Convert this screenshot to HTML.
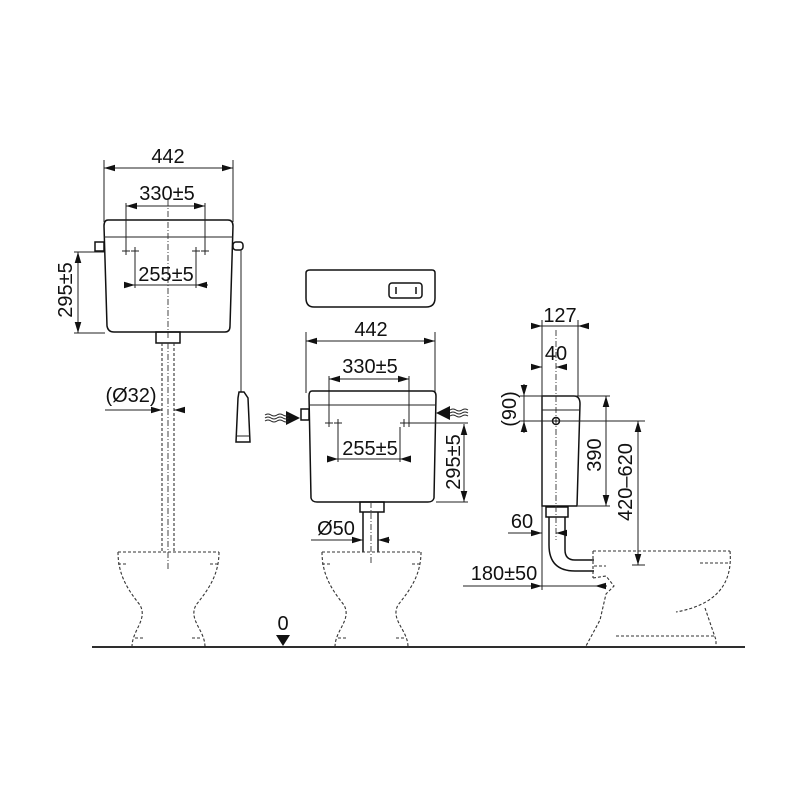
<!DOCTYPE html>
<html><head><meta charset="utf-8"><style>
html,body{margin:0;padding:0;background:#fff}
svg{display:block}
text{font-family:"Liberation Sans","DejaVu Sans",sans-serif;font-size:20px;fill:#111}
.s{stroke:#111;stroke-width:1.5;fill:none}
.t{stroke:#222;stroke-width:1;fill:none}
.d{stroke:#333;stroke-width:1.1;fill:none;stroke-dasharray:3,2}
.c{stroke:#333;stroke-width:0.9;fill:none;stroke-dasharray:6,2,1,2}
</style></head><body>
<svg width="800" height="800" viewBox="0 0 800 800" xmlns="http://www.w3.org/2000/svg">
<defs>
<marker id="a" viewBox="0 0 10 6" refX="10" refY="3" markerWidth="11" markerHeight="7" orient="auto-start-reverse" markerUnits="userSpaceOnUse"><path d="M0,0L10,3L0,6z" fill="#111"/></marker>
</defs>
<line x1="92" y1="647" x2="745" y2="647" stroke="#111" stroke-width="1.8"/>
<path d="M276,635h14l-7,11z" fill="#111"/><text x="283" y="630" text-anchor="middle">0</text>

<!-- LEFT TANK -->
<path class="s" d="M108,220 Q104,220 104,226 L107,326 Q108,332 114,332 L225,332 Q230,332 230,326 L233,226 Q233,220 228,220 Z"/>
<line class="t" x1="104" y1="237" x2="233" y2="237"/>
<rect class="s" x="95" y="242" width="9" height="9"/>
<rect class="s" x="233" y="242" width="10" height="8" rx="3"/>
<line class="c" x1="168" y1="200" x2="168" y2="340"/>
<line class="t" x1="104" y1="160" x2="104" y2="222"/><line class="t" x1="233" y1="160" x2="233" y2="222"/>
<line class="t" x1="104" y1="168" x2="233" y2="168" marker-start="url(#a)" marker-end="url(#a)"/>
<text x="168" y="163" text-anchor="middle">442</text>
<line class="t" x1="126" y1="203" x2="126" y2="254"/><line class="t" x1="205" y1="203" x2="205" y2="254"/>
<line class="t" x1="126" y1="206" x2="205" y2="206" marker-start="url(#a)" marker-end="url(#a)"/>
<text x="167" y="200" text-anchor="middle">330±5</text>
<path class="t" d="M122,251h8M126,247v8M131,251h8M135,247v8M192,251h8M196,247v8M201,251h8M205,247v8"/>
<line class="t" x1="135" y1="255" x2="135" y2="288"/><line class="t" x1="196" y1="255" x2="196" y2="288"/>
<line class="t" x1="124" y1="285" x2="135" y2="285" marker-end="url(#a)"/><line class="t" x1="208" y1="285" x2="196" y2="285" marker-end="url(#a)"/>
<line class="t" x1="135" y1="285" x2="196" y2="285"/>
<text x="166" y="281" text-anchor="middle">255±5</text>
<line class="t" x1="74" y1="252" x2="104" y2="252"/><line class="t" x1="74" y1="333" x2="105" y2="333"/>
<line class="t" x1="78" y1="252" x2="78" y2="333" marker-start="url(#a)" marker-end="url(#a)"/>
<text transform="translate(72,290) rotate(-90)" text-anchor="middle">295±5</text>
<rect class="s" x="156" y="332" width="24" height="11"/>
<path class="d" d="M162,343V552M174,343V552"/><line class="c" x1="168" y1="343" x2="168" y2="570"/>
<line class="t" x1="105" y1="410" x2="162" y2="410" marker-end="url(#a)"/><line class="t" x1="185" y1="410" x2="174" y2="410" marker-end="url(#a)"/>
<text x="131" y="402" text-anchor="middle">(Ø32)</text>
<line class="t" x1="241" y1="250" x2="241" y2="392"/>
<path class="s" d="M239,392h5l4,6l2,44h-14l2,-44z"/><line class="t" x1="236" y1="436" x2="250" y2="436"/>
<path class="d" d="M118,552H219 M118,552 C118,575 128,590 140,605 C148,620 132,630 132,647 M219,552 C219,575 208,590 196,605 C188,620 205,630 205,647 M118,564h8M210,564h8M135,638h8M192,638h8"/>

<!-- MIDDLE -->
<path class="s" d="M310,270H432Q435,270 435,273V298Q435,307 426,307H314Q306,307 306,298V273Q306,270 310,270Z"/>
<rect class="s" x="389" y="283" width="33" height="15" rx="3"/><path class="s" d="M396,287v7M416,287v7"/>
<line class="t" x1="306" y1="332" x2="306" y2="393"/><line class="t" x1="435" y1="332" x2="435" y2="393"/>
<line class="t" x1="306" y1="341" x2="435" y2="341" marker-start="url(#a)" marker-end="url(#a)"/>
<text x="371" y="336" text-anchor="middle">442</text>
<line class="t" x1="329" y1="376" x2="329" y2="426"/><line class="t" x1="409" y1="376" x2="409" y2="426"/>
<line class="t" x1="329" y1="379" x2="409" y2="379" marker-start="url(#a)" marker-end="url(#a)"/>
<text x="370" y="373" text-anchor="middle">330±5</text>
<path class="s" d="M312,391H432Q436,391 436,396L434,498Q433,502 428,502H317Q312,502 311,498L309,396Q309,391 312,391Z"/>
<line class="t" x1="309" y1="405" x2="436" y2="405"/>
<rect class="s" x="301" y="409" width="8" height="11"/>
<path class="t" d="M325,423h8M329,419v8M334,423h8M338,419v8M400,423h8M404,419v8M405,423h8M409,419v8M413,423h55"/>
<line class="t" x1="338" y1="427" x2="338" y2="462"/><line class="t" x1="400" y1="427" x2="400" y2="462"/>
<line class="t" x1="330" y1="459" x2="409" y2="459"/>
<path d="M338,459l-11,-3.5v7zM400,459l11,-3.5v7z" fill="#111"/>
<text x="370" y="455" text-anchor="middle">255±5</text>
<line class="t" x1="436" y1="502" x2="468" y2="502"/>
<line class="t" x1="464" y1="424" x2="464" y2="502" marker-start="url(#a)" marker-end="url(#a)"/>
<text transform="translate(460,462) rotate(-90)" text-anchor="middle">295±5</text>
<path d="M300,418l-14,-7v14z M436,413l14,-7v14z" fill="#111"/>
<path class="t" d="M265,415q3,-2 6,0t6,0t6,0t6,0M265,418q3,-2 6,0t6,0t6,0t6,0M265,421q3,-2 6,0t6,0t6,0t6,0M450,410q3,-2 6,0t6,0t6,0M450,413q3,-2 6,0t6,0t6,0M450,416q3,-2 6,0t6,0t6,0"/>
<rect class="s" x="360" y="502" width="24" height="10"/>
<path class="s" d="M363,512V552M378,512V552"/><line class="c" x1="371" y1="502" x2="371" y2="565"/>
<line class="t" x1="311" y1="540" x2="363" y2="540" marker-end="url(#a)"/><line class="t" x1="390" y1="540" x2="378" y2="540" marker-end="url(#a)"/>
<text x="336" y="535" text-anchor="middle">Ø50</text>
<path class="d" d="M322,552H421 M322,552 C322,575 332,590 344,605 C352,620 335,630 335,647 M421,552 C421,575 410,590 398,605 C390,620 408,630 408,647 M322,564h8M412,564h8M338,638h8M396,638h8"/>

<!-- RIGHT -->
<path class="s" d="M542,396H574Q580,396 580,404L577,506H542Z"/>
<line class="t" x1="542" y1="410" x2="579" y2="410"/>
<circle class="s" cx="556" cy="421" r="3.5"/><circle cx="556" cy="421" r="1" fill="#111"/>
<rect class="s" x="546" y="507" width="22" height="10"/>
<path class="s" d="M549,517V545Q549,571 575,571H594M565,517V550Q565,560 575,560H594"/>
<line class="c" x1="556" y1="330" x2="556" y2="540"/>
<line class="t" x1="542" y1="320" x2="542" y2="590"/><line class="t" x1="578" y1="320" x2="578" y2="396"/>
<line class="t" x1="533" y1="326" x2="542" y2="326" marker-end="url(#a)"/><line class="t" x1="589" y1="326" x2="578" y2="326" marker-end="url(#a)"/><line class="t" x1="542" y1="326" x2="578" y2="326"/>
<text x="560" y="322" text-anchor="middle">127</text>
<line class="t" x1="533" y1="367" x2="542" y2="367" marker-end="url(#a)"/><line class="t" x1="566" y1="367" x2="556" y2="367" marker-end="url(#a)"/>
<text x="556" y="360" text-anchor="middle">40</text>
<line class="t" x1="520" y1="396" x2="610" y2="396"/><line class="t" x1="520" y1="421" x2="645" y2="421"/>
<line class="t" x1="524" y1="384" x2="524" y2="396" marker-end="url(#a)"/><line class="t" x1="524" y1="433" x2="524" y2="421" marker-end="url(#a)"/><line class="t" x1="524" y1="396" x2="524" y2="421"/>
<text transform="translate(516,409) rotate(-90)" text-anchor="middle">(90)</text>
<line class="t" x1="578" y1="506" x2="610" y2="506"/>
<line class="t" x1="606" y1="396" x2="606" y2="506" marker-start="url(#a)" marker-end="url(#a)"/>
<text transform="translate(601,455) rotate(-90)" text-anchor="middle">390</text>
<line class="t" x1="632" y1="565" x2="645" y2="565"/>
<line class="t" x1="638" y1="421" x2="638" y2="565" marker-start="url(#a)" marker-end="url(#a)"/>
<text transform="translate(632,482) rotate(-90)" text-anchor="middle">420–620</text>
<line class="t" x1="508" y1="533" x2="542" y2="533" marker-end="url(#a)"/><line class="t" x1="566" y1="533" x2="556" y2="533" marker-end="url(#a)"/>
<text x="522" y="528" text-anchor="middle">60</text>
<line class="t" x1="463" y1="586" x2="542" y2="586" marker-end="url(#a)"/><line class="t" x1="607" y1="586" x2="595" y2="586" marker-end="url(#a)"/><line class="t" x1="542" y1="586" x2="595" y2="586"/>
<text x="504" y="580" text-anchor="middle">180±50</text>
<path class="d" d="M593,551H730 M593,551V578 M593,578 L606,576 L614,586 L606,594 L600,620 L586,646 M730,551 C733,585 715,605 676,612 M705,608 L716,640 L716,646 M700,563h30M616,636H716 M594,566h12"/>
</svg>
</body></html>
